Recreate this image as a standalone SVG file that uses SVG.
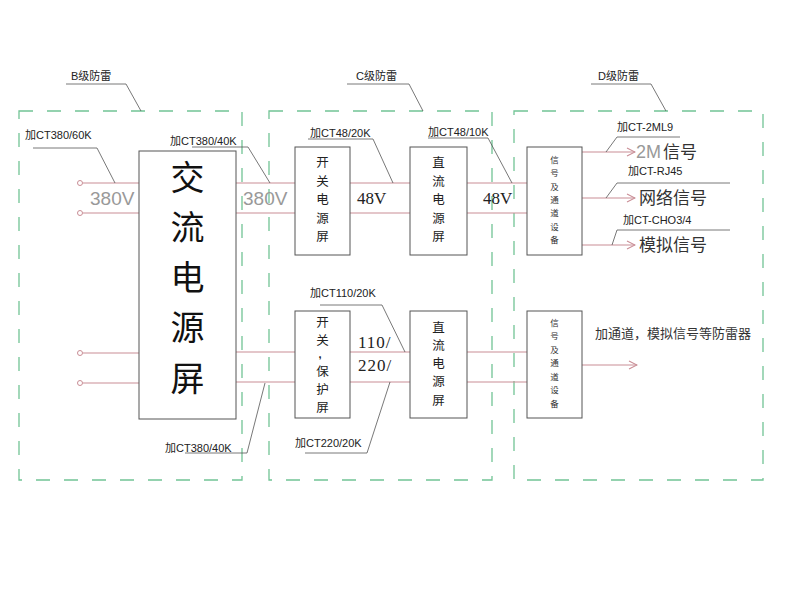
<svg xmlns="http://www.w3.org/2000/svg" width="787" height="597" viewBox="0 0 787 597">
<defs>
<style>
.zone{fill:none;stroke:#72c495;stroke-width:1.3;stroke-dasharray:14 14}
.box{fill:#fff;stroke:#555;stroke-width:1}
.wire{fill:none;stroke:#c98d95;stroke-width:1}
.lead{fill:none;stroke:#555;stroke-width:0.8}
.lbl{font-family:"Liberation Sans","Noto Sans CJK SC",sans-serif;font-size:11px;fill:#222}
.big{font-family:"Noto Sans CJK SC",sans-serif;font-size:34px;fill:#111;text-anchor:middle}
.mid{font-family:"Noto Sans CJK SC",sans-serif;font-size:12.5px;fill:#222;text-anchor:middle}
.sm{font-family:"Noto Sans CJK SC",sans-serif;font-size:8.5px;fill:#333;text-anchor:middle}
.volt{font-family:"Liberation Sans",sans-serif;font-size:19px;fill:#999}
.vd{font-family:"Liberation Serif",serif;font-size:17px;fill:#222}
.sig{font-family:"Noto Sans CJK SC",sans-serif;font-size:17px;fill:#333}
.note{font-family:"Noto Sans CJK SC",sans-serif;font-size:13px;fill:#333}
</style>
<marker id="chev" viewBox="0 0 10 10" refX="9" refY="5" markerWidth="10" markerHeight="10" markerUnits="userSpaceOnUse" orient="auto">
<path d="M1,1 L9,5 L1,9" fill="none" stroke="#c98d95" stroke-width="1.1"/>
</marker>
</defs>
<rect width="787" height="597" fill="#fff"/>

<g id="zones">
<rect id="zone-b" class="zone" x="19" y="111" width="223" height="369"/>
<rect id="zone-c" class="zone" x="269" y="111" width="223" height="369"/>
<rect id="zone-d" class="zone" x="514" y="111" width="249" height="369"/>
<text class="lbl" x="71" y="80">B级防雷</text>
<text class="lbl" x="356" y="80">C级防雷</text>
<text class="lbl" x="598" y="80">D级防雷</text>
</g>

<g id="connectors">
<circle cx="80" cy="183" r="2.5" fill="#fff" stroke="#c98d95"/>
<circle cx="80" cy="213" r="2.5" fill="#fff" stroke="#c98d95"/>
<circle cx="80" cy="353" r="2.5" fill="#fff" stroke="#c98d95"/>
<circle cx="80" cy="383" r="2.5" fill="#fff" stroke="#c98d95"/>
<path class="wire" d="M83,183H139M83,213H139M83,353H139M83,383H139"/>
<path class="wire" d="M236,183H295M236,213H295M350,183H410M350,213H410M467,183H527M467,213H527"/>
<path class="wire" d="M236,352H295M236,382H295M350,352H410M350,382H410M467,352H527M467,382H527"/>
<path class="wire" d="M582,152H635" marker-end="url(#chev)"/>
<path class="wire" d="M582,198H635" marker-end="url(#chev)"/>
<path class="wire" d="M582,245H635" marker-end="url(#chev)"/>
<path class="wire" d="M582,365H637" marker-end="url(#chev)"/>
<path class="lead" d="M66,84H126L141,111"/>
<path class="lead" d="M347,84H409L423,111"/>
<path class="lead" d="M591,84H651L666,111"/>
<path class="lead" d="M33,148H97L115,183"/>
<path class="lead" d="M192,147H248L270,183"/>
<path class="lead" d="M308,139H373L393,183"/>
<path class="lead" d="M428,138H488L512,183"/>
<path class="lead" d="M680,137H617L606,152"/>
<path class="lead" d="M730,183H617L606,198"/>
<path class="lead" d="M730,230H617L612,245"/>
<path class="lead" d="M185,453H247L265,383"/>
<path class="lead" d="M320,305H382L405,352"/>
<path class="lead" d="M305,453H367L390,382"/>
</g>

<g id="node-ac">
<rect class="box" x="139" y="151" width="97" height="268"/>
<text class="big"><tspan x="187.5" y="190">交</tspan><tspan x="187.5" y="240">流</tspan><tspan x="187.5" y="290">电</tspan><tspan x="187.5" y="340">源</tspan><tspan x="187.5" y="391">屏</tspan></text>
</g>

<g id="node-switch">
<rect class="box" x="295" y="147" width="55" height="108"/>
<text class="mid"><tspan x="322.5" y="167">开</tspan><tspan x="322.5" y="185.5">关</tspan><tspan x="322.5" y="204">电</tspan><tspan x="322.5" y="222.5">源</tspan><tspan x="322.5" y="241">屏</tspan></text>
</g>

<g id="node-dc1">
<rect class="box" x="410" y="147" width="57" height="108"/>
<text class="mid"><tspan x="438.5" y="167">直</tspan><tspan x="438.5" y="185.5">流</tspan><tspan x="438.5" y="204">电</tspan><tspan x="438.5" y="222.5">源</tspan><tspan x="438.5" y="241">屏</tspan></text>
</g>

<g id="node-signal1">
<rect class="box" x="527" y="147" width="55" height="108"/>
<text class="sm"><tspan x="554.5" y="163">信</tspan><tspan x="554.5" y="176">号</tspan><tspan x="554.5" y="189.5">及</tspan><tspan x="554.5" y="203">通</tspan><tspan x="554.5" y="216">道</tspan><tspan x="554.5" y="229.5">设</tspan><tspan x="554.5" y="243">备</tspan></text>
</g>

<g id="node-protect">
<rect class="box" x="295" y="311" width="55" height="107"/>
<text class="mid"><tspan x="322.5" y="327">开</tspan><tspan x="322.5" y="344.5">关</tspan></text>
<text x="320" y="358" font-family="Liberation Sans, sans-serif" font-size="11" font-weight="bold" fill="#222" text-anchor="middle">,</text>
<text class="mid"><tspan x="322.5" y="375.5">保</tspan><tspan x="322.5" y="393.8">护</tspan><tspan x="322.5" y="412.1">屏</tspan></text>
</g>

<g id="node-dc2">
<rect class="box" x="410" y="311" width="57" height="107"/>
<text class="mid"><tspan x="438.5" y="331.5">直</tspan><tspan x="438.5" y="349.8">流</tspan><tspan x="438.5" y="368.1">电</tspan><tspan x="438.5" y="386.4">源</tspan><tspan x="438.5" y="404.7">屏</tspan></text>
</g>

<g id="node-signal2">
<rect class="box" x="527" y="311" width="55" height="107"/>
<text class="sm"><tspan x="554.5" y="325.5">信</tspan><tspan x="554.5" y="339">号</tspan><tspan x="554.5" y="352.5">及</tspan><tspan x="554.5" y="366">通</tspan><tspan x="554.5" y="379.5">道</tspan><tspan x="554.5" y="393">设</tspan><tspan x="554.5" y="406.5">备</tspan></text>
</g>

<g id="labels">
<text class="lbl" x="25" y="139">加CT380/60K</text>
<text class="lbl" x="170" y="145">加CT380/40K</text>
<text class="lbl" x="310" y="137">加CT48/20K</text>
<text class="lbl" x="428" y="136">加CT48/10K</text>
<text class="lbl" x="617" y="131">加CT-2ML9</text>
<text class="lbl" x="628" y="175">加CT-RJ45</text>
<text class="lbl" x="623" y="224">加CT-CHO3/4</text>
<text class="lbl" x="310" y="297">加CT110/20K</text>
<text class="lbl" x="165" y="452">加CT380/40K</text>
<text class="lbl" x="295" y="447">加CT220/20K</text>
<text class="volt" x="90" y="205">380V</text>
<text class="volt" x="243" y="205">380V</text>
<text class="vd" x="357" y="204">48V</text>
<text class="vd" x="483" y="204">48V</text>
<text class="vd" x="358" y="348" letter-spacing="1">110/</text>
<text class="vd" x="358" y="371" letter-spacing="1">220/</text>
<text class="sig" x="636" y="158"><tspan fill="#999" font-family="Liberation Sans, sans-serif" font-size="18">2M</tspan><tspan dx="2">信号</tspan></text>
<text class="sig" x="639" y="204">网络信号</text>
<text class="sig" x="639" y="251">模拟信号</text>
<text class="note" x="595" y="338">加通道，模拟信号等防雷器</text>
</g>
</svg>
